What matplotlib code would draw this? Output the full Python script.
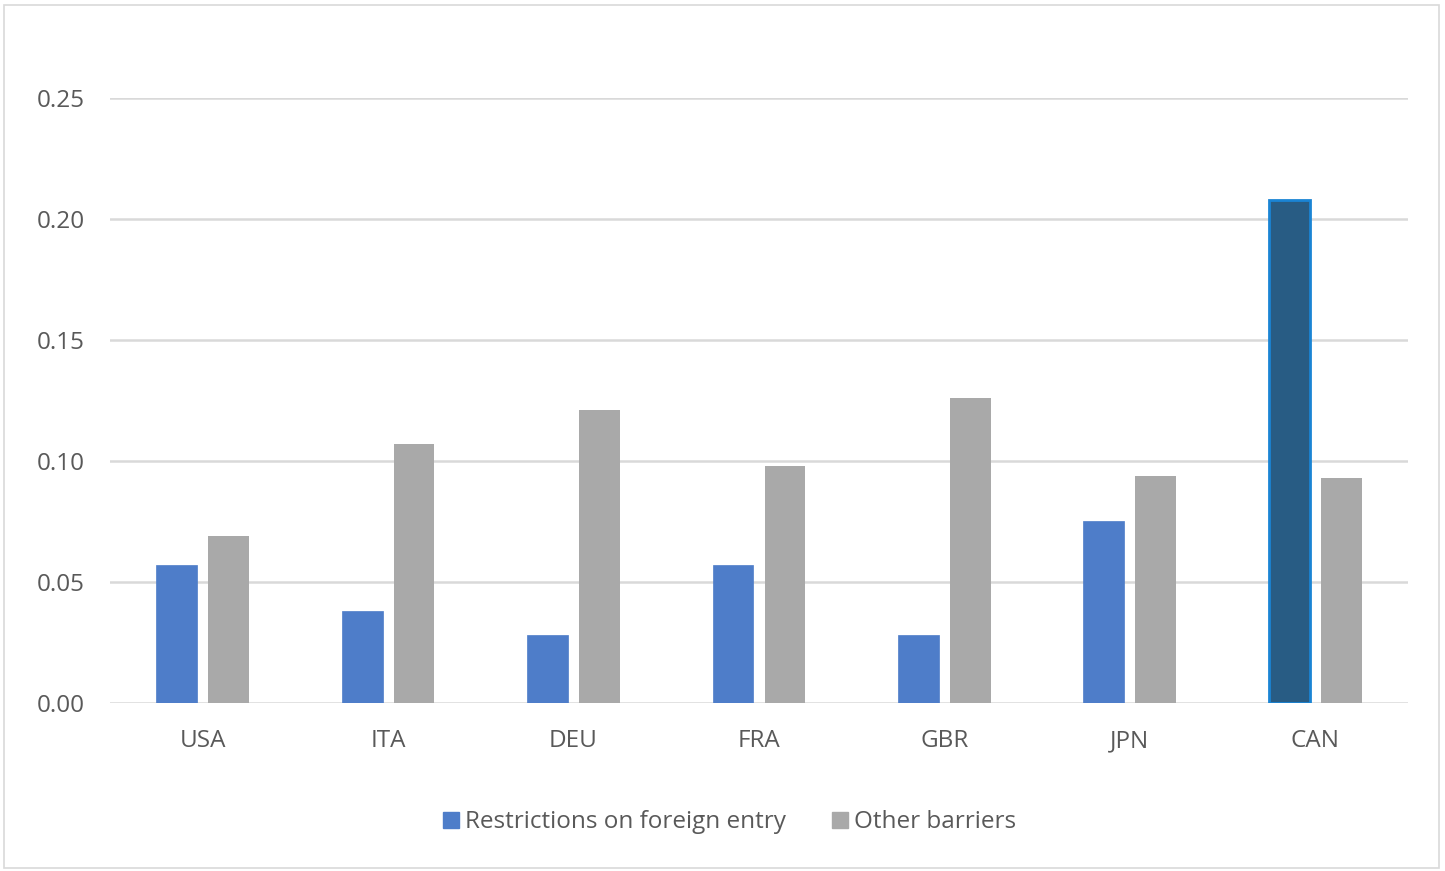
import matplotlib.pyplot as plt
import numpy as np
from matplotlib.patches import Rectangle

countries = ["USA", "ITA", "DEU", "FRA", "GBR", "JPN", "CAN"]
foreign_entry = [0.057, 0.038, 0.028, 0.057, 0.028, 0.075, 0.208]
other_barriers = [0.069, 0.107, 0.121, 0.098, 0.126, 0.094, 0.093]

plt.rcParams['font.family'] = ['Open Sans', 'DejaVu Sans']
text_col = '#595959'

fig = plt.figure(figsize=(14.45, 8.71), dpi=100)
ax = fig.add_axes([0.0761, 0.1929, 0.8983, 0.6946])

x = np.arange(len(countries))
w = 0.22
blue_cols = ['#4E7DC9'] * (len(countries) - 1) + ['#285C84']
edge_cols = ['#4E7DC9'] * (len(countries) - 1) + ['#1A84D4']
ax.bar(x - 0.14, foreign_entry, w, color=blue_cols, edgecolor=edge_cols,
       linewidth=[0.5] * (len(countries) - 1) + [2], label='Restrictions on foreign entry', zorder=3)
ax.bar(x + 0.14, other_barriers, w, color='#A9A9A9', label='Other barriers', zorder=3)

ax.set_xlim(-0.5, len(countries) - 0.5)
ax.set_ylim(0, 0.25)
ax.set_yticks(np.arange(0, 0.26, 0.05))
ax.set_yticklabels([f"{v:.2f}" for v in np.arange(0, 0.26, 0.05)])
ax.set_xticks(x)
ax.set_xticklabels(countries)
ax.tick_params(length=0, labelsize=17.5, colors=text_col)
ax.tick_params(axis='x', pad=19)
ax.tick_params(axis='y', pad=18)
ax.grid(axis='y', color='#D9D9D9', linewidth=1.8, zorder=0)
for s in ax.spines.values():
    s.set_visible(False)

h, l = ax.get_legend_handles_labels()
leg = fig.legend([Rectangle((0, 0), 1, 1, color='#4E7DC9'), Rectangle((0, 0), 1, 1, color='#A9A9A9')], l,
                 loc='center', bbox_to_anchor=(0.505, 0.056), ncol=2, frameon=False,
                 fontsize=17.5, handlelength=0.65, handleheight=0.65, handletextpad=0.25,
                 columnspacing=1.9)
for t in leg.get_texts():
    t.set_color(text_col)

fig.patches.append(Rectangle((0.003, 0.003), 0.993, 0.991, transform=fig.transFigure,
                             fill=False, edgecolor='#D9D9D9', linewidth=1.2))

fig.savefig('out.png', dpi=100)
